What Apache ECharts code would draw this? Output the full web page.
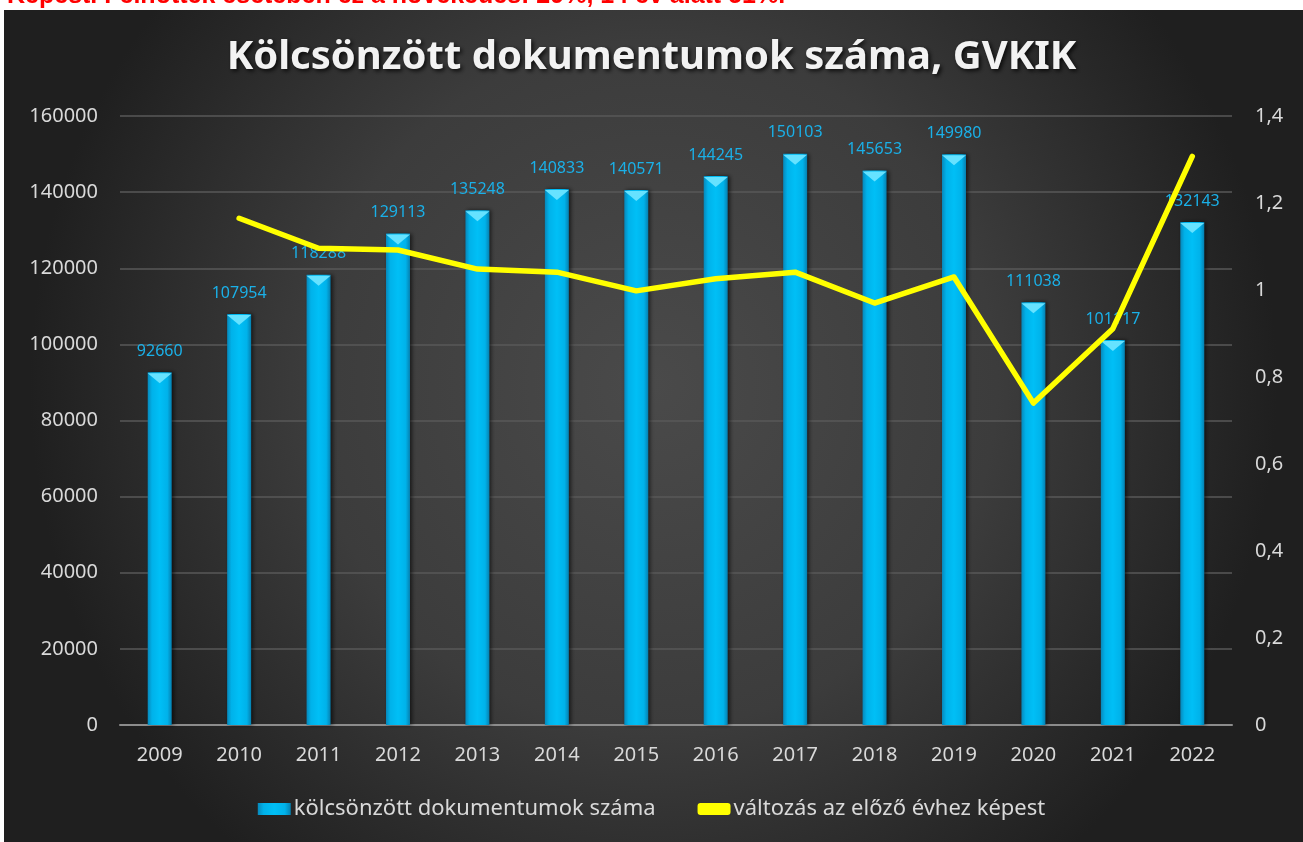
<!DOCTYPE html>
<html>
<head>
<meta charset="utf-8">
<script src="https://cdn.jsdelivr.net/npm/echarts@6/dist/echarts.min.js"></script>
<style>
  html, body { margin: 0; padding: 0; background: #fff; }
  #chart { width: 1303px; height: 842px; }
</style>
</head>
<body>
<div id="chart"></div>
<script>
let $ = a => document.querySelector(a)

// adatok
const years = ['2009', '2010', '2011', '2012', '2013', '2014', '2015', '2016', '2017', '2018', '2019', '2020', '2021', '2022']
const loans = [92660, 107954, 118288, 129113, 135248, 140833, 140571, 144245, 150103, 145653, 149980, 111038, 101117, 132143]
const change = [null, 1.165, 1.096, 1.092, 1.048, 1.041, 0.998, 1.026, 1.041, 0.970, 1.030, 0.740, 0.911, 1.307]
const leftTicks = [0, 20000, 40000, 60000, 80000, 100000, 120000, 140000, 160000]
const rightTicks = ['0', '0,2', '0,4', '0,6', '0,8', '1', '1,2', '1,4']

const barName = 'kölcsönzött dokumentumok száma'
const lineName = 'változás az előző évhez képest'
const font = 'Noto Sans'

{
    const chart = echarts.init($('#chart'), null, { renderer: 'canvas' })
    chart.setOption({
        animation: false,
        backgroundColor: '#fff',
        graphic: [
            {
                type: 'rect',
                z: -10,
                shape: { x: 4, y: 10, width: 1299, height: 832 },
                style: {
                    fill: new echarts.graphic.RadialGradient(0.5, 0.45, 0.75, [
                        { offset: 0, color: '#4a4a4a' },
                        { offset: 0.55, color: '#3c3c3c' },
                        { offset: 1, color: '#1f1f1f' }
                    ])
                }
            },
            {
                // a fenti szöveg alja, levágva
                type: 'text',
                x: 7,
                y: 9,
                style: {
                    text: 'Képest. Felnőttek esetében ez a növekedés: 29%, 14 év alatt 51%.',
                    fill: '#ff0000',
                    font: 'bold 25px "Liberation Sans"',
                    verticalAlign: 'bottom'
                }
            }
        ],
        title: {
            text: 'Kölcsönzött dokumentumok száma, GVKIK',
            left: 'center',
            top: 33,
            textStyle: {
                color: '#f2f2f2',
                fontFamily: font,
                fontWeight: 'bold',
                fontSize: 40,
                textShadowColor: 'rgba(0,0,0,0.8)',
                textShadowBlur: 4,
                textShadowOffsetX: 2,
                textShadowOffsetY: 2
            }
        },
        legend: {
            bottom: 17,
            left: 'center',
            itemWidth: 33,
            itemHeight: 12,
            itemGap: 42,
            textStyle: { color: '#d9d9d9', fontFamily: font, fontSize: 22, padding: [0, 0, 0, -2] },
            data: [
                { name: barName, icon: 'rect' },
                { name: lineName, icon: 'roundRect', itemStyle: { color: '#ffff00' } }
            ]
        },
        grid: { left: 120, right: 71, top: 116, bottom: 117 },
        xAxis: {
            type: 'category',
            data: years,
            axisLine: { lineStyle: { color: '#8c8c8c', width: 2 } },
            axisTick: { show: false },
            axisLabel: { color: '#d9d9d9', fontFamily: font, fontSize: 20, margin: 20 }
        },
        yAxis: [
            {
                type: 'value',
                min: 0,
                max: 160000,
                interval: 20000,
                axisLine: { show: false },
                axisTick: { show: false },
                splitLine: { lineStyle: { color: '#595959', width: 1.5 } },
                axisLabel: { color: '#d9d9d9', fontFamily: font, fontSize: 20, margin: 22,
                    formatter: v => String(leftTicks[Math.round(v / 20000)]) }
            },
            {
                type: 'value',
                min: 0,
                max: 1.4,
                interval: 0.2,
                axisLine: { show: false },
                axisTick: { show: false },
                splitLine: { show: false },
                axisLabel: { color: '#d9d9d9', fontFamily: font, fontSize: 20, margin: 23,
                    formatter: v => rightTicks[Math.round(v / 0.2)] }
            }
        ],
        series: [
            {
                name: barName,
                type: 'bar',
                barWidth: 24,
                data: loans,
                itemStyle: {
                    color: new echarts.graphic.LinearGradient(0, 0, 1, 0, [
                        { offset: 0, color: '#0788bb' },
                        { offset: 0.18, color: '#00b2ea' },
                        { offset: 0.5, color: '#00bff6' },
                        { offset: 0.82, color: '#00b2ea' },
                        { offset: 1, color: '#0680b0' }
                    ]),
                    shadowColor: 'rgba(0,0,0,0.6)',
                    shadowBlur: 4,
                    shadowOffsetX: 2
                },
                label: {
                    show: true,
                    position: 'top',
                    distance: 13,
                    color: '#1ab0e8',
                    fontFamily: font,
                    fontSize: 16
                }
            },
            {
                name: barName + '_top',
                type: 'pictorialBar',
                data: loans,
                symbol: 'triangle',
                symbolRotate: 180,
                symbolPosition: 'end',
                symbolSize: [24, 10],
                symbolOffset: [0, '10%'],
                itemStyle: { color: '#66e2ff' },
                silent: true,
                z: 3
            },
            {
                name: lineName,
                type: 'line',
                yAxisIndex: 1,
                data: change,
                showSymbol: false,
                symbol: 'none',
                lineStyle: { color: '#ffff00', width: 5.5, cap: 'round', join: 'round' },
                itemStyle: { color: '#ffff00' },
                z: 5
            }
        ]
    })
}
</script>
</body>
</html>
